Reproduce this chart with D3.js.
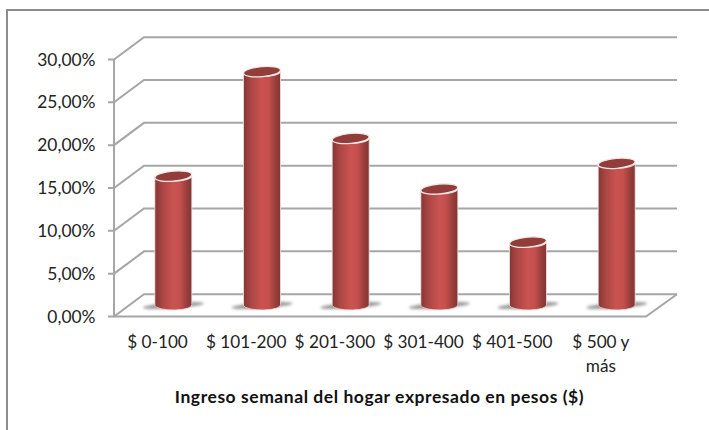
<!DOCTYPE html>
<html>
<head>
<meta charset="utf-8">
<script src="https://cdn.jsdelivr.net/npm/d3@7/dist/d3.min.js"></script>
<style>
html,body{margin:0;padding:0;background:#fff;}
svg{display:block;}
text{font-family:Lato,"Open Sans",sans-serif;fill:#222;}
</style>
</head>
<body>
<svg id="chart" width="709" height="430"></svg>
<script>
// Weekly household income brackets and their share of households
const categories = ["$ 0-100", "$ 101-200", "$ 201-300", "$ 301-400", "$ 401-500", "$ 500 y|más"];
const shares = [15.1, 27.3, 19.5, 13.6, 7.4, 16.6];
const yTicks = [0, 5, 10, 15, 20, 25, 30];
const xTitle = "Ingreso semanal del hogar expresado en pesos ($)";

const svg = d3.select("#chart");
const defs = svg.append("defs");

// Oblique projection of the 3D box: front wall to back wall
const depthX = 30, depthY = -22.3;
const x = d3.scaleBand().domain(categories).range([114, 646]).paddingInner(0).paddingOuter(0);
const y = d3.scaleLinear().domain([0, 30]).range([316.5, 59.5]);

const grid = "#a6a6a6";
const frontLeft = x.range()[0], frontRight = x.range()[1];

// Chart area border
svg.append("path")
  .attr("d", "M7,430V10H709")
  .attr("fill", "none").attr("stroke", "#8c8c8c").attr("stroke-width", 2);

// Gridlines on the side and back walls, plus the floor outline
const gridG = svg.append("g").attr("fill", "none").attr("stroke", grid).attr("stroke-width", 2);
yTicks.forEach(t => {
  gridG.append("path").attr("d",
    `M${frontLeft - 6},${y(t)}H${frontLeft}L${frontLeft + depthX},${y(t) + depthY}H${frontRight + depthX + 1}`);
});
gridG.append("path").attr("d", `M${frontLeft},${y(30)}V${y(0)}H${frontRight}L${frontRight + depthX + 1},${y(0) + depthY}`);

// Cylinder shading
const body = defs.append("linearGradient").attr("id", "cyl");
[[0, "#853634"], [0.2, "#a94644"], [0.5, "#cb5351"], [0.68, "#c44f4d"], [0.88, "#943d3b"], [1, "#823533"]]
  .forEach(([o, c]) => body.append("stop").attr("offset", o).attr("stop-color", c));
const shadow = defs.append("filter").attr("id", "soft").attr("x", "-30%").attr("width", "160%").attr("y", "-150%").attr("height", "400%");
shadow.append("feGaussianBlur").attr("stdDeviation", "1.8");

const bw = 37, rx = bw / 2, ry = 5;
const baseY = 305.5;
const centerX = d => x(d) + x.bandwidth() / 2 + 15;
const barH = v => y(0) - y(v);

const bars = svg.append("g").selectAll("g")
  .data(categories.map((c, i) => ({c, v: shares[i]})))
  .join("g");

// Floor shadow, sheared along the floor plane
bars.append("ellipse")
  .attr("cx", d => centerX(d.c))
  .attr("cy", baseY)
  .attr("rx", rx + 12).attr("ry", 2.6)
  .attr("transform", d => `rotate(-4 ${centerX(d.c)} ${baseY})`)
  .attr("fill", "#8a8a8a").attr("filter", "url(#soft)");

// Cylinder wall
bars.append("path")
  .attr("d", d => {
    const cx = centerX(d.c), top = baseY - barH(d.v);
    return `M${cx - rx},${top}V${baseY}A${rx},${ry} 0 0 0 ${cx + rx},${baseY - 1}V${top}A${rx},${ry} 0 0 1 ${cx - rx},${top}Z`;
  })
  .attr("fill", "url(#cyl)").attr("stroke", "#efe4e3").attr("stroke-width", 0.8);

// Cylinder cap, tilted slightly like the projection
bars.append("ellipse")
  .attr("cx", d => centerX(d.c))
  .attr("cy", d => baseY - barH(d.v))
  .attr("rx", rx).attr("ry", ry)
  .attr("transform", d => `rotate(-5 ${centerX(d.c)} ${baseY - barH(d.v)})`)
  .attr("fill", "#933d3b").attr("stroke", "#f3e9e8").attr("stroke-width", 1.3);

// Value axis labels
svg.append("g").selectAll("text").data(yTicks).join("text")
  .attr("x", 95.5).attr("y", d => y(d) + 6)
  .attr("text-anchor", "end").attr("font-size", 17.4)
  .text(d => d3.format(".2f")(d).replace(".", ",") + "%");

// Category labels, wrapped on the marker
const catG = svg.append("g").selectAll("text").data(categories).join("text")
  .attr("text-anchor", "middle").attr("font-size", 17.2)
  .attr("y", 348);
catG.each(function(d) {
  const cx = x(d) + x.bandwidth() / 2;
  d3.select(this).selectAll("tspan").data(d.split("|")).join("tspan")
    .attr("x", cx - 0.8)
    .attr("dy", (_, i) => i ? 23.5 : 0)
    .text(t => t);
});

// Axis title
svg.append("text")
  .attr("x", 379.5).attr("y", 403)
  .attr("text-anchor", "middle").attr("font-size", 17.5).attr("font-weight", 700)
  .attr("letter-spacing", 0.55)
  .style("fill", "#111")
  .text(xTitle);
</script>
</body>
</html>
